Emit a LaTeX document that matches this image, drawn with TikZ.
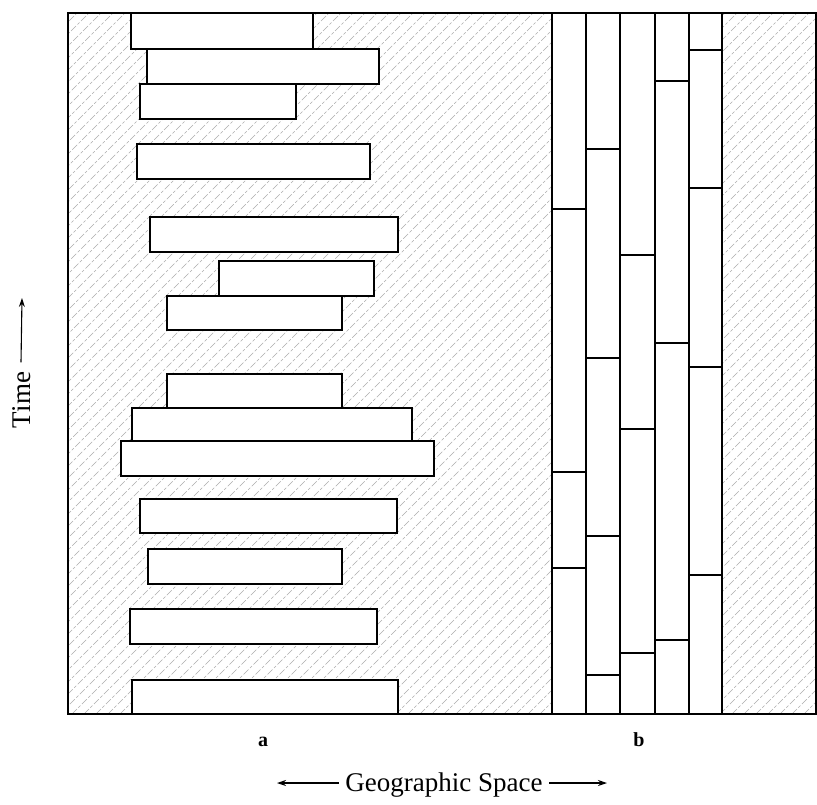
\documentclass[tikz,border=0pt]{standalone}
\usepackage{fontspec}
\setmainfont{Liberation Serif}
\usetikzlibrary{arrows.meta}
\begin{document}
\begin{tikzpicture}[x=1pt,y=-1pt,
  frame/.style={line width=2pt},
  bar/.style={draw,fill=white,line width=1.2pt},
  cellline/.style={line width=1.2pt},
  hatch/.style={gray!65,line width=0.45pt,dash pattern=on 7pt off 2pt on 3pt off 2pt},
  lab/.style={font=\fontsize{27}{30}\selectfont},
  tag/.style={font=\fontsize{20}{22}\selectfont\bfseries},
  arr/.style={line width=1.1pt,-{Stealth[length=9pt,width=6pt]}}]
\useasboundingbox (0,0) rectangle (817,804);
% hatching
\begin{scope}
  \clip (68,13) rectangle (816,714);
  \foreach \i in {-704,-692,...,760}
    \draw[hatch] (68+\i,714) -- ++(710,-710);
\end{scope}
% panel a bars
\foreach \xa/\ya/\xb/\yb in {
  131/13/313/49, 147/49/379/84, 140/84/296/119, 137/144/370/179,
  150/217/398/252, 219/261/374/296, 167/296/342/330,
  167/374/342/408, 132/408/412/441, 121/441/434/476,
  140/499/397/533, 148/549/342/584, 130/609/377/644, 132/680/398/714}
  \draw[bar] (\xa,\ya) rectangle (\xb,\yb);
% panel b columns
\fill[white] (552,13) rectangle (722,714);
\foreach \x in {552,586,620,655,689,722}
  \draw[cellline] (\x,13) -- (\x,714);
\foreach \y in {209,472,568} \draw[cellline] (552,\y) -- (586,\y);
\foreach \y in {149,358,536,675} \draw[cellline] (586,\y) -- (620,\y);
\foreach \y in {255,429,653} \draw[cellline] (620,\y) -- (655,\y);
\foreach \y in {81,343,640} \draw[cellline] (655,\y) -- (689,\y);
\foreach \y in {50,188,367,575} \draw[cellline] (689,\y) -- (722,\y);
% frame
\draw[frame] (68,13) rectangle (815.5,714);
% labels
\node[tag] (la) at (263,742) {a};
\node[tag] (lb) at (639,740) {b};
\node[lab,rotate=90] (time) at (22,400) {Time};
\coordinate (ttip) at (22,298);
\draw[arr] ([xshift=-1pt,yshift=6pt]time.east) -- (ttip);
\node[lab] (geo) at (444,785) {Geographic Space};
\coordinate (gl) at (277,783);
\coordinate (gr) at (607,783);
\draw[arr] ([xshift=-3pt,yshift=2pt]geo.west) -- (gl);
\draw[arr] ([xshift=3pt,yshift=2pt]geo.east) -- (gr);
\end{tikzpicture}
\end{document}
